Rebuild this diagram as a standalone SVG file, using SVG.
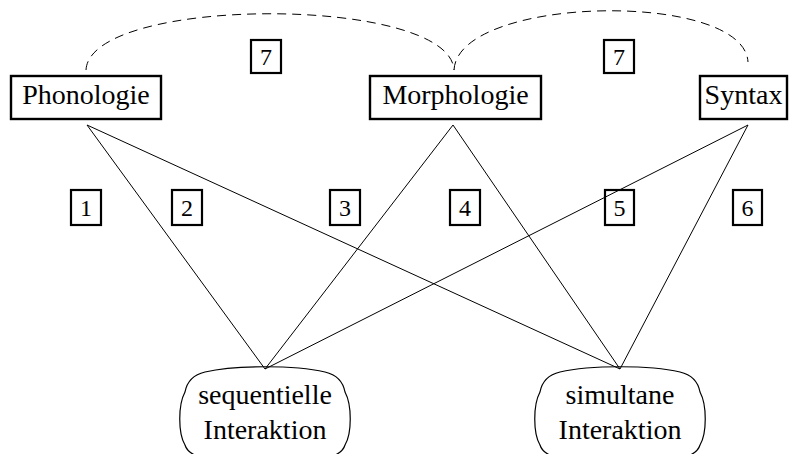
<svg xmlns="http://www.w3.org/2000/svg" width="789" height="454" viewBox="0 0 789 454">
<style>
.box{fill:none;stroke:#000;stroke-width:2.4}
.num{fill:none;stroke:#000;stroke-width:2.2}
.t{font-family:"Liberation Serif","Times New Roman",serif;font-size:28px;text-anchor:middle;fill:#000}
.n{font-family:"Liberation Serif","Times New Roman",serif;font-size:24px;text-anchor:middle;fill:#000}
.ln{fill:none;stroke:#000;stroke-width:1}
.dash{fill:none;stroke:#000;stroke-width:1;stroke-dasharray:9,6}
.rn{fill:none;stroke:#000;stroke-width:1.2}
</style>
<rect width="789" height="454" fill="#fff"/>
<g id="connectors">
<path class="dash" d="M86,70 C90,-5 450,-5 454,70"/>
<path class="dash" d="M454,70 C458,-5 744,-10 748,62"/>
<line class="ln" x1="87" y1="125" x2="265" y2="369"/>
<line class="ln" x1="87" y1="125" x2="620" y2="369"/>
<line class="ln" x1="453" y1="125" x2="265" y2="369"/>
<line class="ln" x1="453" y1="125" x2="620" y2="369"/>
<line class="ln" x1="748" y1="125" x2="265" y2="369"/>
<line class="ln" x1="748" y1="125" x2="620" y2="369"/>
</g>
<g id="phonologie"><rect class="box" x="11" y="76" width="150" height="43"/><text class="t" x="86" y="104">Phonologie</text></g>
<g id="morphologie"><rect class="box" x="370" y="76" width="171" height="43"/><text class="t" x="455.5" y="104">Morphologie</text></g>
<g id="syntax"><rect class="box" x="700" y="76" width="87" height="43"/><text class="t" x="743.5" y="104">Syntax</text></g>
<g id="label7a"><rect class="num" x="251" y="40" width="30" height="33"/><text class="n" x="266" y="65">7</text></g>
<g id="label7b"><rect class="num" x="604" y="40" width="30" height="33"/><text class="n" x="619" y="65">7</text></g>
<g id="label1"><rect class="num" x="71" y="190" width="30" height="35"/><text class="n" x="86" y="216">1</text></g>
<g id="label2"><rect class="num" x="172" y="190" width="30" height="35"/><text class="n" x="187" y="216">2</text></g>
<g id="label3"><rect class="num" x="330" y="190" width="30" height="35"/><text class="n" x="345" y="216">3</text></g>
<g id="label4"><rect class="num" x="450" y="190" width="30" height="35"/><text class="n" x="465" y="216">4</text></g>
<g id="label5"><rect class="num" x="605" y="190" width="29" height="35"/><text class="n" x="619.5" y="216">5</text></g>
<g id="label6"><rect class="num" x="733" y="190" width="29" height="35"/><text class="n" x="747.5" y="216">6</text></g>
<g id="sequentielle">
<path class="rn" d="M205,372 C235,365 295,365 325,372 Q342,376 345,392 C352,405 352,433 345,445 Q342,455 325,458 C295,464 235,464 205,458 Q188,455 185,445 C178,433 178,405 185,392 Q188,376 205,372 Z"/>
<text class="t" x="265" y="404">sequentielle</text>
<text class="t" x="265" y="439">Interaktion</text>
</g>
<g id="simultane">
<path class="rn" d="M560,372 C590,365 650,365 680,372 Q697,376 700,392 C707,405 707,433 700,445 Q697,455 680,458 C650,464 590,464 560,458 Q543,455 540,445 C533,433 533,405 540,392 Q543,376 560,372 Z"/>
<text class="t" x="620" y="404">simultane</text>
<text class="t" x="620" y="439">Interaktion</text>
</g>
</svg>
